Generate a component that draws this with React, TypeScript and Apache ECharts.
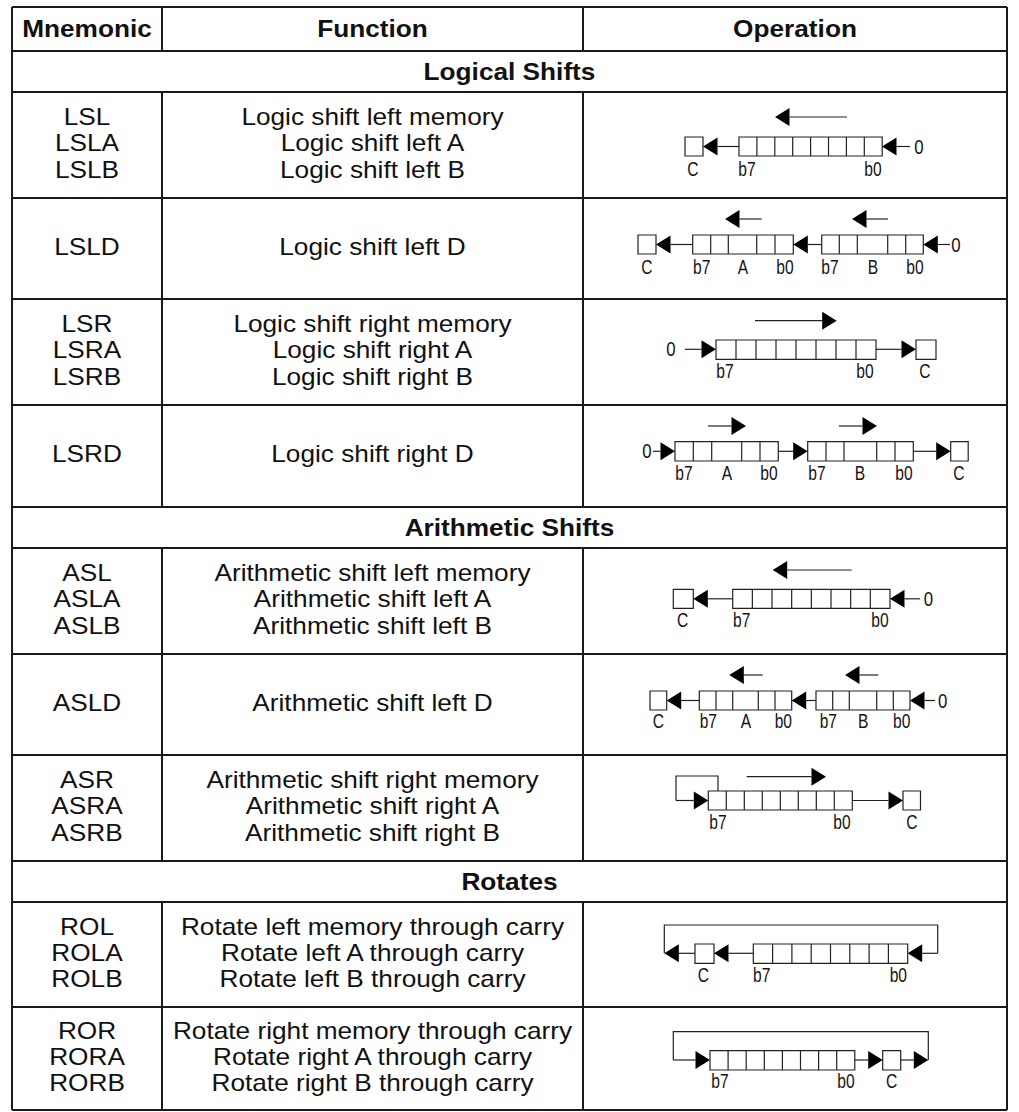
import React, { useEffect, useRef } from "react";
import * as echarts from "echarts";

// ---------- table content ----------
const headers = ["Mnemonic", "Function", "Operation"];
const sections = ["Logical Shifts", "Arithmetic Shifts", "Rotates"];
const mnemonics = [
  ["LSL", "LSLA", "LSLB"],
  ["LSLD"],
  ["LSR", "LSRA", "LSRB"],
  ["LSRD"],
  ["ASL", "ASLA", "ASLB"],
  ["ASLD"],
  ["ASR", "ASRA", "ASRB"],
  ["ROL", "ROLA", "ROLB"],
  ["ROR", "RORA", "RORB"],
];
const functions = [
  ["Logic shift left memory", "Logic shift left A", "Logic shift left B"],
  ["Logic shift left D"],
  ["Logic shift right memory", "Logic shift right A", "Logic shift right B"],
  ["Logic shift right D"],
  ["Arithmetic shift left memory", "Arithmetic shift left A", "Arithmetic shift left B"],
  ["Arithmetic shift left D"],
  ["Arithmetic shift right memory", "Arithmetic shift right A", "Arithmetic shift right B"],
  ["Rotate left memory through carry", "Rotate left A through carry", "Rotate left B through carry"],
  ["Rotate right memory through carry", "Rotate right A through carry", "Rotate right B through carry"],
];

// ---------- layout ----------
const X0 = 12, X1 = 162, X2 = 583, X3 = 1007;
const TOP = 7, HEAD_B = 51;
const layoutRows = [
  { kind: "sec", idx: 0, y0: 51, y1: 92 },
  { kind: "row", idx: 0, y0: 92, y1: 198 },
  { kind: "row", idx: 1, y0: 198, y1: 299 },
  { kind: "row", idx: 2, y0: 299, y1: 405 },
  { kind: "row", idx: 3, y0: 405, y1: 507 },
  { kind: "sec", idx: 1, y0: 507, y1: 548 },
  { kind: "row", idx: 4, y0: 548, y1: 654 },
  { kind: "row", idx: 5, y0: 654, y1: 755 },
  { kind: "row", idx: 6, y0: 755, y1: 861 },
  { kind: "sec", idx: 2, y0: 861, y1: 902 },
  { kind: "row", idx: 7, y0: 902, y1: 1007 },
  { kind: "row", idx: 8, y0: 1007, y1: 1110 },
];

const FONT = "'Liberation Sans', Arial, Helvetica, sans-serif";
const INK = "#111";
const DI = "#222";

function txt(text: string, x: number, y: number, opts: any = {}) {
  return {
    type: "text",
    x,
    y,
    scaleX: opts.scaleX ?? 1.14,
    silent: true,
    style: {
      text,
      fontFamily: FONT,
      fontSize: opts.size ?? 23,
      fontWeight: opts.bold ? "bold" : "normal",
      fill: opts.fill ?? INK,
      align: opts.align ?? "center",
      verticalAlign: "middle",
      textAlign: opts.align ?? "center",
      textVerticalAlign: "middle",
    },
  };
}

function line(x1: number, y1: number, x2: number, y2: number, w = 2, c = "#1a1a1a") {
  return { type: "line", silent: true, shape: { x1, y1, x2, y2 }, style: { stroke: c, lineWidth: w } };
}

// ---------- diagram helpers ----------
const HL = 14.5; // arrow head length
const HH = 9; // arrow head half height

function arrow(xFrom: number, xTo: number, y: number) {
  const dir = xTo > xFrom ? 1 : -1;
  const base = xTo - dir * HL;
  const els: any[] = [];
  if (Math.abs(base - xFrom) > 0.5) els.push(line(xFrom, y, base, y, 1.2, DI));
  els.push({
    type: "polygon",
    silent: true,
    shape: { points: [[xTo, y], [base, y - HH], [base, y + HH]] },
    style: { fill: "#000" },
  });
  return els;
}

function box(x: number, y: number, w: number, h: number) {
  return { type: "rect", silent: true, shape: { x, y, width: w, height: h }, style: { fill: "#fff", stroke: DI, lineWidth: 1.2 } };
}

function register(x: number, y: number, widths: number[], h: number) {
  const els: any[] = [];
  const total = widths.reduce((a, b) => a + b, 0);
  els.push(box(x, y, total, h));
  let cx = x;
  for (let i = 0; i < widths.length - 1; i++) {
    cx += widths[i];
    els.push(line(cx, y, cx, y + h, 1.2, DI));
  }
  return els;
}

function cells(n: number, w: number) {
  return new Array(n).fill(w);
}

function lab(text: string, x: number, y: number, size = 19.5) {
  return txt(text, x, y, { size, scaleX: 0.8, fill: "#151515" });
}

function poly(points: number[][]) {
  return { type: "polyline", silent: true, shape: { points }, style: { stroke: DI, lineWidth: 1.2, fill: null } };
}

function diagrams(): any[] {
  const e: any[] = [];
  // LSL
  e.push(...arrow(847, 775, 117));
  e.push(box(685, 137, 18, 19));
  e.push(...arrow(739, 703, 146.5));
  e.push(...register(739, 137, cells(8, 17.9), 19));
  e.push(...arrow(910, 882, 146.5));
  e.push(lab("0", 919, 146.5, 21));
  e.push(lab("C", 693, 169), lab("b7", 747, 169), lab("b0", 873, 169));

  // LSLD
  e.push(...arrow(761.7, 725, 219), ...arrow(888, 852, 219));
  e.push(box(638, 235, 18, 19));
  e.push(...arrow(692.7, 656, 244.5));
  e.push(...register(692.7, 235, [18, 17.6, 28.4, 18.3, 18.3], 19));
  e.push(...arrow(821.7, 793.3, 244.5));
  e.push(...register(821.7, 235, [17.6, 18, 30.4, 18, 17.6], 19));
  e.push(...arrow(950, 923.3, 244.5));
  e.push(lab("0", 956, 244.5, 21));
  e.push(lab("C", 647, 267), lab("b7", 701.7, 267), lab("A", 743, 267), lab("b0", 785, 267));
  e.push(lab("b7", 830, 267), lab("B", 873, 267), lab("b0", 915, 267));

  // LSR
  e.push(...arrow(755, 836.7, 320.7));
  e.push(lab("0", 671, 349.3, 21));
  e.push(...arrow(685, 716, 349.3));
  e.push(...register(716, 340, cells(8, 20), 19.3));
  e.push(...arrow(876, 916, 349.3));
  e.push(box(916, 340, 20, 19.3));
  e.push(lab("b7", 725, 371.7), lab("b0", 865, 371.7), lab("C", 925, 371.7));

  // LSRD
  e.push(...arrow(708, 746, 426), ...arrow(839, 877, 426));
  e.push(lab("0", 647, 451.3, 21));
  e.push(...arrow(653, 675, 451.3));
  e.push(...register(675, 441.7, [18.3, 18.4, 30, 18.3, 18.3], 19.3));
  e.push(...arrow(778.3, 807.7, 451.3));
  e.push(...register(807.7, 441.7, [18.3, 18, 32.7, 18.3, 18.3], 19.3));
  e.push(...arrow(913.3, 950.7, 451.3));
  e.push(box(950.7, 441.7, 17.5, 19.3));
  e.push(lab("b7", 684, 473), lab("A", 727, 473), lab("b0", 769, 473));
  e.push(lab("b7", 817, 473), lab("B", 860, 473), lab("b0", 904, 473), lab("C", 959, 473));

  // ASL
  e.push(...arrow(851.7, 772.7, 570));
  e.push(box(673.3, 589.3, 20, 19));
  e.push(...arrow(732.7, 693.3, 598.8));
  e.push(...register(732.7, 589.3, cells(8, 19.66), 19));
  e.push(...arrow(920, 890, 598.8));
  e.push(lab("0", 928.3, 598.8, 21));
  e.push(lab("C", 682.7, 620), lab("b7", 741.7, 620), lab("b0", 880, 620));

  // ASLD
  e.push(...arrow(762.7, 729.3, 675), ...arrow(878.3, 845, 675));
  e.push(box(650, 691, 16.7, 19));
  e.push(...arrow(699.3, 666.7, 700.5));
  e.push(...register(699.3, 691, [16.7, 16.7, 25.6, 16.7, 16.7], 19));
  e.push(...arrow(816, 791.7, 700.5));
  e.push(...register(816, 691, [16.7, 16.6, 27.4, 16.6, 16.7], 19));
  e.push(...arrow(935, 910, 700.5));
  e.push(lab("0", 942.7, 700.5, 21));
  e.push(lab("C", 658.3, 721.7), lab("b7", 708.3, 721.7), lab("A", 746, 721.7), lab("b0", 783.3, 721.7));
  e.push(lab("b7", 828.3, 721.7), lab("B", 863.3, 721.7), lab("b0", 901.7, 721.7));

  // ASR
  e.push(poly([[718, 791], [718, 776], [676, 776], [676, 800.5]]));
  e.push(...arrow(676, 708.3, 800.5));
  e.push(...arrow(746.7, 826, 776.7));
  e.push(...register(708.3, 791, cells(8, 18), 19));
  e.push(...arrow(852.3, 903, 800.5));
  e.push(box(903, 791, 17.5, 19));
  e.push(lab("b7", 718, 822), lab("b0", 842, 822), lab("C", 912, 822));

  // ROL
  e.push(poly([[937.7, 953.3], [937.7, 925], [664.3, 925], [664.3, 953.3]]));
  e.push(...arrow(937.7, 907.7, 953.3));
  e.push(...arrow(695, 664.3, 953.3));
  e.push(box(695, 944, 19, 19.3));
  e.push(...arrow(753.3, 714, 953.3));
  e.push(...register(753.3, 944, cells(8, 19.3), 19.3));
  e.push(lab("C", 703.3, 975), lab("b7", 761.7, 975), lab("b0", 898.3, 975));

  // ROR
  e.push(poly([[928.3, 1060], [928.3, 1031.7], [673.3, 1031.7], [673.3, 1060]]));
  e.push(...arrow(673.3, 710, 1060));
  e.push(...register(710, 1050.7, cells(8, 18.1), 19.3));
  e.push(...arrow(854.8, 882.7, 1060));
  e.push(box(882.7, 1050.7, 18, 19.3));
  e.push(...arrow(900.7, 928.3, 1060));
  e.push(lab("b7", 720, 1081.7), lab("b0", 846, 1081.7), lab("C", 891.7, 1081.7));
  return e;
}

function buildGraphics(): any[] {
  const g: any[] = [];
  g.push({ type: "rect", silent: true, shape: { x: 0, y: 0, width: 1019, height: 1112 }, style: { fill: "#fff" } });

  const headCx = [(X0 + X1) / 2, (X1 + X2) / 2, (X2 + X3) / 2];
  headers.forEach((h, i) => g.push(txt(h, headCx[i], 29.5, { bold: true })));

  const LS = 26.3;
  layoutRows.forEach((r) => {
    const cy = (r.y0 + r.y1) / 2;
    if (r.kind === "sec") {
      g.push(txt(sections[r.idx], (X0 + X3) / 2, cy + 0.5, { bold: true }));
    } else {
      const m = mnemonics[r.idx];
      const f = functions[r.idx];
      const n = m.length;
      for (let i = 0; i < n; i++) {
        const y = cy - 1.5 + (i - (n - 1) / 2) * LS;
        g.push(txt(m[i], headCx[0], y));
        g.push(txt(f[i], headCx[1], y));
      }
    }
  });

  // horizontal rules
  g.push(line(X0, TOP, X3, TOP));
  g.push(line(X0, HEAD_B, X3, HEAD_B));
  layoutRows.forEach((r) => g.push(line(X0, r.y1, X3, r.y1)));
  // outer verticals
  g.push(line(X0, TOP, X0, 1110));
  g.push(line(X3, TOP, X3, 1110));
  // inner verticals (interrupted by section rows)
  const segs: number[][] = [[TOP, HEAD_B]];
  let start: number | null = null;
  layoutRows.forEach((r) => {
    if (r.kind === "row") {
      if (start === null) start = r.y0;
    } else if (start !== null) {
      segs.push([start, r.y0]);
      start = null;
    }
  });
  if (start !== null) segs.push([start, 1110]);
  segs.forEach(([a, b]) => {
    g.push(line(X1, a, X1, b));
    g.push(line(X2, a, X2, b));
  });

  g.push(...diagrams());
  return g;
}

export default function App() {
  const ref = useRef<HTMLDivElement>(null);
  useEffect(() => {
    document.body.style.margin = "0";
    const chart = echarts.init(ref.current!, null, { renderer: "svg" });
    chart.setOption({
      animation: false,
      backgroundColor: "#fff",
      graphic: { elements: buildGraphics() },
    });
    return () => chart.dispose();
  }, []);
  return <div ref={ref} style={{ position: "absolute", left: 0, top: 0, width: 1019, height: 1112 }} />;
}
